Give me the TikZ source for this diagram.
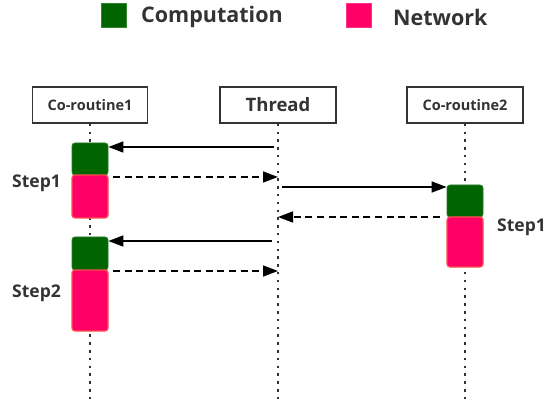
\documentclass[tikz,border=0pt]{standalone}
\usepackage{fontspec}
\setmainfont{Open Sans}
\usetikzlibrary{arrows.meta}
\definecolor{txt}{HTML}{333333}
\definecolor{comp}{HTML}{006400}
\definecolor{net}{HTML}{FF0066}
\definecolor{netb}{HTML}{FF4D4D}
\begin{document}
\begin{tikzpicture}[x=1pt,y=-1pt,
  actor/.style={draw=txt,line width=1.6pt,fill=white,minimum width=115,minimum height=36,inner sep=0,text=txt,font=\bfseries\fontsize{14.5}{14.5}\selectfont},
  life/.style={draw=txt,line width=1.5pt,dash pattern=on 2.5pt off 5.3pt},
  compblk/.style={fill=comp,draw=comp!85!white,line width=0.8pt,rounded corners=3pt,minimum width=36,inner sep=0},
  netblk/.style={fill=net,draw=netb,line width=1.2pt,rounded corners=3pt,minimum width=36,inner sep=0},
  callarrow/.style={draw=black,line width=1.6pt,-{Triangle[length=15pt,width=11pt]}},
  retarrow/.style={draw=black,line width=1.6pt,dash pattern=on 7pt off 4.6pt,-{Triangle[length=15pt,width=11pt]}},
  lbl/.style={text=txt,font=\bfseries\fontsize{17.5}{17.5}\selectfont,inner sep=0,anchor=west},
  legsq/.style={minimum width=25,minimum height=24,inner sep=0}
]
\useasboundingbox (0,0) rectangle (550,404);
% legend
\node[legsq,fill=comp,draw=comp!80!white,line width=0.6pt] (lgc) at (113.5,15.5) {};
\node[lbl,font=\bfseries\fontsize{21.5}{21.5}\selectfont] (lgct) at (141,17) {Computation};
\node[legsq,fill=net,draw=net!80!white,line width=0.6pt] (lgn) at (358.5,15.5) {};
\node[lbl,font=\bfseries\fontsize{21.5}{21.5}\selectfont] (lgnt) at (393,17) {Network};
% actors
\node[actor] (c1) at (90,105) {Co-routine1};
\node[actor,minimum width=116,font=\bfseries\fontsize{18.5}{18.5}\selectfont] (th) at (278,105) {Thread};
\node[actor,minimum width=116] (c2) at (465,105) {Co-routine2};
% lifelines
\coordinate (c1e) at (90,404);
\coordinate (the) at (278,404);
\coordinate (c2e) at (465,404);
\draw[life] (c1.south) -- (c1e);
\draw[life] (th.south) -- (the);
\draw[life] (c2.south) -- (c2e);
% blocks
\node[compblk,minimum height=32] (g1) at (90,159) {};
\node[netblk,minimum height=43] (p1) at (90,196.5) {};
\node[compblk,minimum height=33] (g2) at (90,253.5) {};
\node[netblk,minimum height=61] (p2) at (90,300.5) {};
\node[compblk,minimum height=32] (g3) at (465,201) {};
\node[netblk,minimum height=50] (p3) at (465,242) {};
% step labels
\node[lbl] (s1) at (12,183) {Step1};
\node[lbl] (s2) at (12,293) {Step2};
\node[lbl] (s3) at (497,227) {Step1};
% messages
\coordinate (a1) at (274,147);
\coordinate (a2) at (113,177);
\coordinate (a3) at (282,187);
\coordinate (a4) at (440,217);
\coordinate (a5) at (272,241);
\coordinate (a6) at (113,271);
\draw[callarrow] (a1) -- (a1 -| g1.east);
\draw[retarrow] (a2) -- (a2 -| th.center);
\draw[callarrow] (a3) -- (a3 -| g3.west);
\draw[retarrow] (a4) -- (a4 -| th.center);
\draw[callarrow] (a5) -- (a5 -| g2.east);
\draw[retarrow] (a6) -- (a6 -| th.center);
\end{tikzpicture}
\end{document}
